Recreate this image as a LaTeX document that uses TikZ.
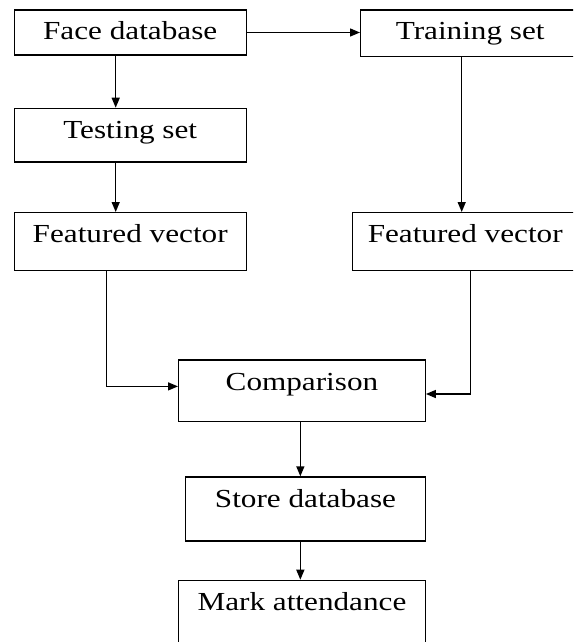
\documentclass[tikz,border=0pt]{standalone}
\usepackage{fontspec}
\setmainfont{Liberation Serif}[FakeStretch=1.2]
\usetikzlibrary{arrows.meta}
\begin{document}
\begin{tikzpicture}[x=0.5pt,y=-0.5pt,line width=0.7pt,>={Triangle[length=5pt,width=4pt]},
box/.style={draw,anchor=north west,inner xsep=0pt,inner ysep=0pt,text height=15pt,font=\fontsize{13}{15.6}\selectfont}]
\clip (0,0) rectangle (573,642);
\node[box,minimum width=116pt,text depth=7.5pt] (face) at (13.5,9.3) {Face database};
\node[box,minimum width=109.5pt,text depth=8.35pt] (train) at (360,9.3) {Training set};
\node[box,minimum width=116pt,text depth=11.8pt] (test) at (13.5,107.7) {Testing set};
\node[box,minimum width=116pt,text depth=14pt] (fvleft) at (13.5,212) {Featured vector};
\node[box,minimum width=112.5pt,text depth=14pt] (fvright) at (352,212) {Featured vector};
\node[box,minimum width=123.25pt,text depth=15.7pt] (comp) at (178,359.3) {Comparison};
\node[box,minimum width=119.75pt,text depth=17pt] (store) at (185,476.3) {Store database};
\node[box,minimum width=123.25pt,text depth=20pt] (mark) at (178,579.7) {Mark attendance};
\draw [->] (face.east) -- (face.east -| train.west);
\draw [->] ([xshift=-7.25pt]face.south) -- ([xshift=-7.25pt]test.north);
\draw [->] ([xshift=-7.25pt]test.south) -- ([xshift=-7.25pt]fvleft.north);
\draw [->] ([xshift=-4.25pt]train.south) -- ([xshift=-4.25pt]train.south |- fvright.north);
\draw [->] ([xshift=-11.75pt]fvleft.south) |- ([yshift=2.15pt]comp.west);
\draw [->] ([xshift=2.5pt]fvright.south) |- ([yshift=-1.65pt]comp.east);
\draw [->] ([xshift=-0.8pt]comp.south) -- ([xshift=-0.8pt]comp.south |- store.north);
\draw [->] ([xshift=-0.8pt]mark.north |- store.south) -- ([xshift=-0.8pt]mark.north);
\end{tikzpicture}
\end{document}
